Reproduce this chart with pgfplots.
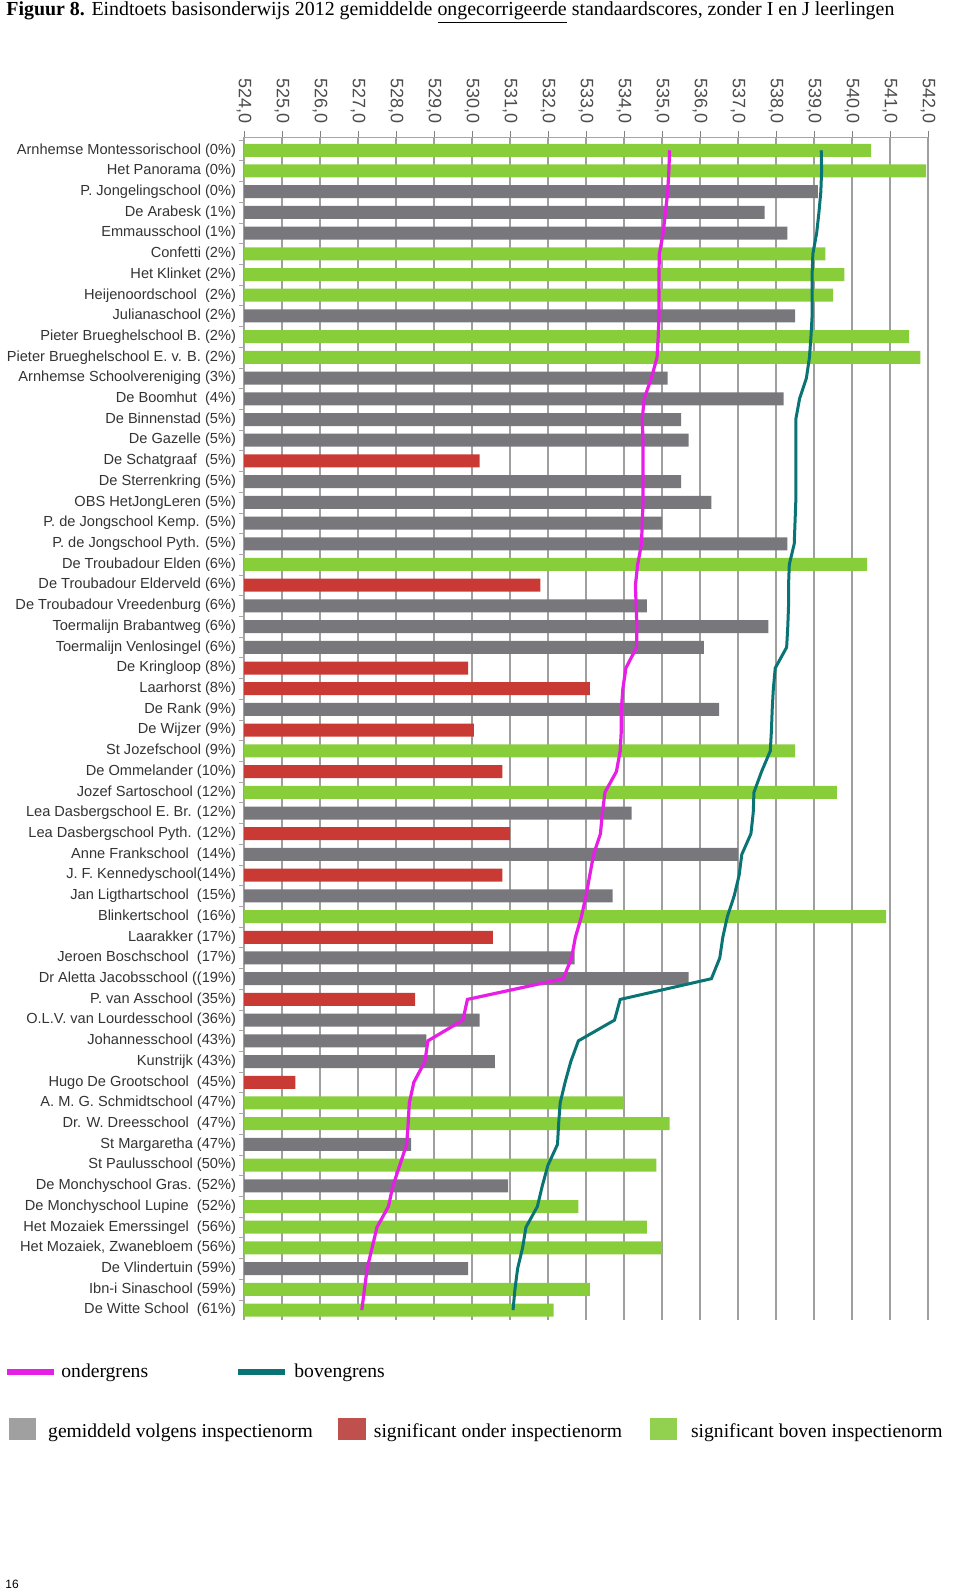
\documentclass[border=0pt]{standalone}
\usepackage{fontspec}
\setmainfont{Liberation Serif}
\setsansfont{Liberation Sans}
\usepackage{pgfplots}
\usepackage{pgfplotstable}
\pgfplotsset{compat=1.18}

\definecolor{bargray}{RGB}{120,119,124}
\definecolor{barred}{RGB}{202,58,52}
\definecolor{bargreen}{RGB}{136,206,58}
\definecolor{leggray}{RGB}{160,160,160}
\definecolor{legred}{RGB}{192,80,77}
\definecolor{leggreen}{RGB}{146,208,80}
\definecolor{onder}{RGB}{230,30,230}
\definecolor{boven}{RGB}{10,115,115}

% rij = positie van de school (1 = bovenaan); geplot op y = -rij
\pgfplotstableread{
row val
3 539.1
4 537.7
5 538.3
9 538.5
12 535.15
13 538.2
14 535.5
15 535.7
17 535.5
18 536.3
19 535.0
20 538.3
23 534.6
24 537.8
25 536.1
28 536.5
33 534.2
35 537.0
37 533.7
40 532.7
41 535.7
43 530.2
44 528.8
45 530.6
49 528.4
51 530.95
55 529.9
}\tgray

\pgfplotstableread{
row val
16 530.2
22 531.8
26 529.9
27 533.1
29 530.05
31 530.8
34 531.0
36 530.8
39 530.55
42 528.5
46 525.35
}\tred

\pgfplotstableread{
row val
1 540.5
2 541.95
6 539.3
7 539.8
8 539.5
10 541.5
11 541.8
21 540.4
30 538.5
32 539.6
38 540.9
47 534.0
48 535.2
50 534.85
52 532.8
53 534.6
54 535.0
56 533.1
57 532.15
}\tgreen

% ondergrens en bovengrens per rij
\pgfplotstableread{
row lo hi
1 535.20 539.19
2 535.18 539.20
3 535.15 539.18
4 535.09 539.13
5 535.03 539.07
6 534.93 538.97
7 534.92 538.95
8 534.92 538.95
9 534.92 538.95
10 534.90 538.92
11 534.87 538.88
12 534.72 538.80
13 534.53 538.62
14 534.48 538.52
15 534.50 538.52
16 534.50 538.52
17 534.50 538.52
18 534.50 538.52
19 534.48 538.50
20 534.46 538.48
21 534.36 538.35
22 534.30 538.33
23 534.32 538.33
24 534.34 538.31
25 534.33 538.28
26 534.05 537.98
27 533.97 537.93
28 533.93 537.90
29 533.93 537.88
30 533.90 537.85
31 533.80 537.62
32 533.50 537.42
33 533.43 537.40
34 533.38 537.34
35 533.20 537.10
36 533.10 537.03
37 533.00 536.90
38 532.88 536.72
39 532.72 536.60
40 532.62 536.52
41 532.40 536.30
42 529.88 533.90
43 529.76 533.75
44 528.84 532.80
45 528.76 532.60
46 528.47 532.45
47 528.35 532.32
48 528.32 532.28
49 528.28 532.25
50 528.10 532.00
51 527.92 531.85
52 527.80 531.72
53 527.50 531.42
54 527.37 531.33
55 527.24 531.20
56 527.17 531.13
57 527.10 531.08
}\tgrens

\begin{document}
\begin{tikzpicture}
\path[use as bounding box] (0,0) rectangle (480bp,-795.5bp);

\node[anchor=base west, inner sep=0pt] at (3bp,-7.5bp)
  {\fontsize{9.95bp}{12bp}\selectfont\textbf{Figuur 8.} Eindtoets basisonderwijs 2012 gemiddelde \underline{ongecorrigeerde} standaardscores, zonder I en J leerlingen};

\begin{axis}[
  at={(122bp,-68.5bp)}, anchor=north west,
  width=342bp, height=591.5bp, scale only axis,
  xmin=524, xmax=542, ymin=-57.48, ymax=-0.36,
  xbar, bar width=6.5bp, bar shift=0pt,
  axis x line*=top, axis y line*=left,
  axis line style={gray!70, line width=0.5bp},
  xtick={524,525,...,542},
  xmajorgrids, grid style={gray!75, line width=0.6bp},
  tick align=outside, major tick length=3bp,
  /pgf/number format/.cd, fixed, fixed zerofill, precision=1, use comma, assume math mode=true,
  /pgfplots/.cd,
  xticklabel style={rotate=-90, anchor=east, font=\sffamily\fontsize{9bp}{9bp}\selectfont, text=black!70},
  ytick={-57,...,-1},
  major y tick style={draw=none},
  minor ytick={-57.5,-56.5,...,-0.5},
  minor y tick style={gray!70},
  minor tick length=2.5bp,
  yticklabel style={font=\sffamily\fontsize{7.3bp}{8bp}\selectfont, text=black!80, xshift=2.5bp},
  % van onder naar boven
  yticklabels={
    De Witte School\ \ (61\%),
    Ibn-i Sinaschool (59\%),
    De Vlindertuin (59\%),
    {Het Mozaiek, Zwanebloem (56\%)},
    Het Mozaiek Emerssingel\ \ (56\%),
    De Monchyschool Lupine\ \ (52\%),
    De Monchyschool Gras. (52\%),
    St Paulusschool (50\%),
    St Margaretha (47\%),
    Dr. W. Dreesschool\ \ (47\%),
    A. M. G. Schmidtschool (47\%),
    Hugo De Grootschool\ \ (45\%),
    Kunstrijk (43\%),
    Johannesschool (43\%),
    O.L.V. van Lourdesschool (36\%),
    P. van Asschool (35\%),
    Dr Aletta Jacobsschool ((19\%),
    Jeroen Boschschool\ \ (17\%),
    Laarakker (17\%),
    Blinkertschool\ \ (16\%),
    Jan Ligthartschool\ \ (15\%),
    J. F. Kennedyschool(14\%),
    Anne Frankschool\ \ (14\%),
    Lea Dasbergschool Pyth. (12\%),
    Lea Dasbergschool E. Br. (12\%),
    Jozef Sartoschool (12\%),
    De Ommelander (10\%),
    St Jozefschool (9\%),
    De Wijzer (9\%),
    De Rank (9\%),
    Laarhorst (8\%),
    De Kringloop (8\%),
    Toermalijn Venlosingel (6\%),
    Toermalijn Brabantweg (6\%),
    De Troubadour Vreedenburg (6\%),
    De Troubadour Elderveld (6\%),
    De Troubadour Elden (6\%),
    P. de Jongschool Pyth. (5\%),
    P. de Jongschool Kemp. (5\%),
    OBS HetJongLeren (5\%),
    De Sterrenkring (5\%),
    De Schatgraaf\ \ (5\%),
    De Gazelle (5\%),
    De Binnenstad (5\%),
    De Boomhut\ \ (4\%),
    Arnhemse Schoolvereniging (3\%),
    Pieter Brueghelschool E. v. B. (2\%),
    Pieter Brueghelschool B. (2\%),
    Julianaschool (2\%),
    Heijenoordschool\ \ (2\%),
    Het Klinket (2\%),
    Confetti (2\%),
    Emmausschool (1\%),
    De Arabesk (1\%),
    P. Jongelingschool (0\%),
    Het Panorama (0\%),
    Arnhemse Montessorischool (0\%)
  },
]
\addplot[fill=bargray, draw=none] table[x=val, y expr=-\thisrow{row}] {\tgray};
\addplot[fill=barred, draw=none] table[x=val, y expr=-\thisrow{row}] {\tred};
\addplot[fill=bargreen, draw=none] table[x=val, y expr=-\thisrow{row}] {\tgreen};
\addplot[sharp plot, no marks, onder, line width=1.6bp] table[x=lo, y expr=-\thisrow{row}] {\tgrens};
\addplot[sharp plot, no marks, boven, line width=1.5bp] table[x=hi, y expr=-\thisrow{row}] {\tgrens};
\end{axis}

% legenda
\fontsize{9.8bp}{12bp}\selectfont
\draw[onder, line width=2.6bp] (3.65bp,-686bp) -- (27bp,-686bp);
\node[anchor=base west, inner sep=0pt] at (30.5bp,-688.5bp) {ondergrens};
\draw[boven, line width=2.6bp] (118.8bp,-686bp) -- (142.4bp,-686bp);
\node[anchor=base west, inner sep=0pt] at (147bp,-688.5bp) {bovengrens};

\fill[leggray] (4.3bp,-709bp) rectangle (17.75bp,-720bp);
\node[anchor=base west, inner sep=0pt] at (23.9bp,-718.5bp) {gemiddeld volgens inspectienorm};
\fill[legred] (169bp,-709bp) rectangle (182.8bp,-720bp);
\node[anchor=base west, inner sep=0pt] at (186.75bp,-718.5bp) {significant onder inspectienorm};
\fill[leggreen] (325bp,-709bp) rectangle (338.35bp,-720bp);
\node[anchor=base west, inner sep=0pt] at (345.35bp,-718.5bp) {significant boven inspectienorm};

\node[anchor=base west, inner sep=0pt, font=\sffamily\fontsize{6bp}{7bp}\selectfont] at (2.5bp,-794bp) {16};
\end{tikzpicture}
\end{document}
